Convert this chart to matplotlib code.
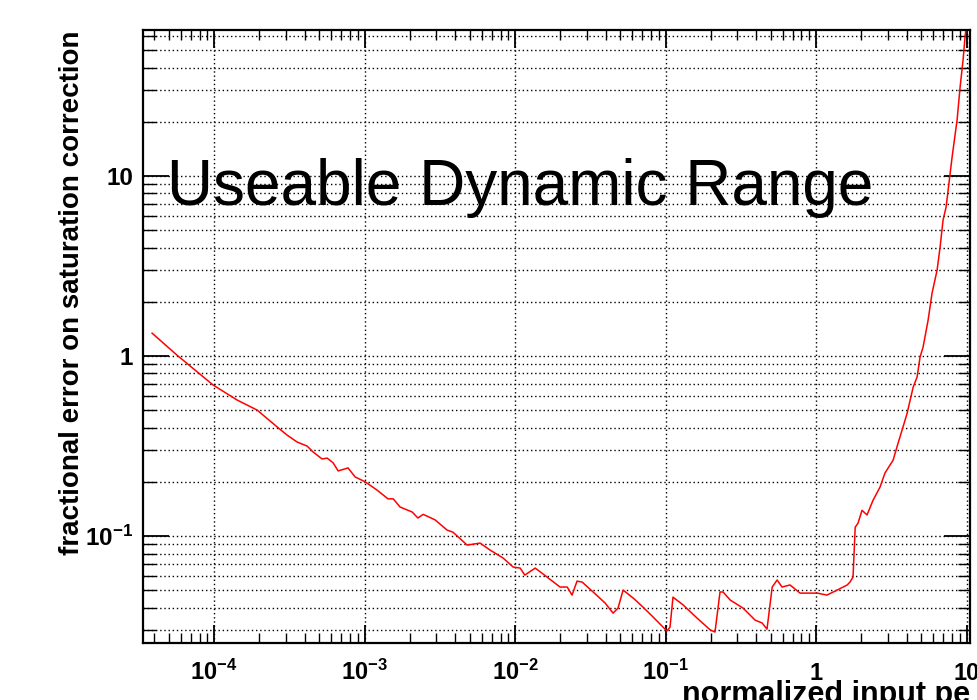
import numpy as np
import matplotlib
matplotlib.use('Agg')
import matplotlib.pyplot as plt
from matplotlib.ticker import FixedLocator, LogLocator, NullFormatter, FixedFormatter

plt.rcParams['font.family'] = ['Liberation Sans', 'DejaVu Sans']
plt.rcParams['mathtext.default'] = 'regular'

# ─────────────────────────────────────────────
# DATA
# ─────────────────────────────────────────────
input_pe = [
    3.87e-5, 5.68e-5, 9.85e-5, 1.42e-4, 1.93e-4, 2.63e-4, 3.05e-4, 3.56e-4,
    4.15e-4, 4.55e-4, 5.22e-4, 5.64e-4, 6.18e-4, 6.67e-4, 7.76e-4, 8.65e-4,
    1.01e-3, 1.21e-3, 1.43e-3, 1.55e-3, 1.72e-3, 2.07e-3, 2.26e-3, 2.45e-3,
    2.94e-3, 3.53e-3, 3.87e-3, 4.80e-3, 5.85e-3, 6.82e-3, 8.32e-3, 9.70e-3,
    1.08e-2, 1.16e-2, 1.36e-2, 1.63e-2, 1.99e-2, 2.22e-2, 2.39e-2, 2.58e-2,
    2.79e-2, 3.30e-2, 3.96e-2, 4.48e-2, 4.83e-2, 5.22e-2, 6.08e-2, 7.08e-2,
    8.26e-2, 0.102, 0.107, 0.112, 0.131, 0.162, 0.198, 0.213,
    0.230, 0.241, 0.269, 0.327, 0.394, 0.438, 0.472, 0.511,
    0.551, 0.594, 0.671, 0.783, 1.02, 1.18, 1.38, 1.61,
    1.68, 1.76, 1.82, 1.90, 2.02, 2.18, 2.39, 2.66,
    2.87, 3.25, 3.51, 3.78, 4.03, 4.22, 4.42, 4.69,
    4.91, 5.14, 5.55, 5.90, 6.37, 6.67, 6.98, 7.31,
    8.02, 8.65, 9.06, 9.48, 9.77, 10.0,
]
frac_error = [
    1.34, 1.01, 0.690, 0.570, 0.501, 0.403, 0.364, 0.333,
    0.316, 0.293, 0.268, 0.271, 0.255, 0.230, 0.239, 0.213,
    0.200, 0.180, 0.161, 0.161, 0.145, 0.136, 0.126, 0.132,
    0.123, 0.108, 0.105, 0.0891, 0.0914, 0.0836, 0.0755, 0.0673,
    0.0664, 0.0607, 0.0664, 0.0592, 0.0521, 0.0521, 0.0470, 0.0562,
    0.0555, 0.0489, 0.0425, 0.0373, 0.0398, 0.0501, 0.0453, 0.0403,
    0.0355, 0.0297, 0.0312, 0.0458, 0.0414, 0.0350, 0.0301, 0.0293,
    0.0489, 0.0489, 0.0441, 0.0398, 0.0341, 0.0329, 0.0304, 0.0521,
    0.0570, 0.0521, 0.0535, 0.0482, 0.0482, 0.0470, 0.0501, 0.0535,
    0.0555, 0.0592, 0.112, 0.118, 0.139, 0.131, 0.158, 0.187,
    0.224, 0.264, 0.329, 0.403, 0.482, 0.570, 0.673, 0.764,
    0.988, 1.12, 1.58, 2.24, 3.00, 4.03, 5.70, 6.72,
    12.8, 20.5, 31.2, 44.1, 59.2, 70.0,
]

x_major = [1e-4, 1e-3, 1e-2, 1e-1, 1, 10]
x_labels = [r'$10^{-4}$', r'$10^{-3}$', r'$10^{-2}$', r'$10^{-1}$', '1', '10']
y_major = [0.1, 1, 10]
y_labels = [r'$10^{-1}$', '1', '10']

# ─────────────────────────────────────────────
# PLOT
# ─────────────────────────────────────────────
fig = plt.figure(figsize=(9.77, 7.0), dpi=100)
ax = fig.add_axes([0.1464, 0.0814, 0.8465, 0.8757])

ax.plot(input_pe, frac_error, color='#ff0000', lw=1.1)

ax.set_xscale('log')
ax.set_yscale('log')
ax.set_xlim(3.37e-5, 10.55)
ax.set_ylim(0.02546, 64.7)

ax.xaxis.set_major_locator(FixedLocator(x_major))
ax.xaxis.set_major_formatter(FixedFormatter(x_labels))
ax.xaxis.set_minor_locator(LogLocator(base=10, subs=np.arange(2, 10), numticks=30))
ax.xaxis.set_minor_formatter(NullFormatter())
ax.yaxis.set_major_locator(FixedLocator(y_major))
ax.yaxis.set_major_formatter(FixedFormatter(y_labels))
ax.yaxis.set_minor_locator(LogLocator(base=10, subs=np.arange(2, 10), numticks=30))
ax.yaxis.set_minor_formatter(NullFormatter())

# ROOT-style dotted grid: decades on x, every tick on y
grid_style = dict(color='black', linestyle=(0, (1, 2)), linewidth=1.0)
ax.grid(which='major', axis='x', **grid_style)
ax.grid(which='both', axis='y', **grid_style)

ax.tick_params(axis='both', which='both', direction='in', top=True, right=True,
               color='black')
ax.tick_params(axis='x', which='major', length=13, width=1.3, pad=26.5, labelsize=17)
ax.tick_params(axis='x', which='minor', length=7, width=1.0)
ax.tick_params(axis='y', which='major', length=19, width=1.3, pad=7, labelsize=17.5)
ax.tick_params(axis='y', which='minor', length=9, width=1.0)

for lab in ax.get_xticklabels():
    lab.set_fontweight('bold')
    lab.set_verticalalignment('baseline')
for lab in ax.get_yticklabels():
    lab.set_fontweight('bold')
    lab.set_verticalalignment('center_baseline')

for sp in ax.spines.values():
    sp.set_linewidth(1.6)

ax.set_xlabel('normalized input pe', fontsize=22, fontweight='bold', loc='right')
ax.xaxis.set_label_coords(1.0, -0.060)
ax.set_ylabel('fractional error on saturation correction', fontsize=20,
              fontweight='bold', loc='top')
ax.yaxis.set_label_coords(-0.070, 1.0)

fig.text(0.171, 0.707, 'Useable Dynamic Range', fontsize=46, va='baseline',
         family='Liberation Sans')

fig.savefig('out.png', dpi=100)
